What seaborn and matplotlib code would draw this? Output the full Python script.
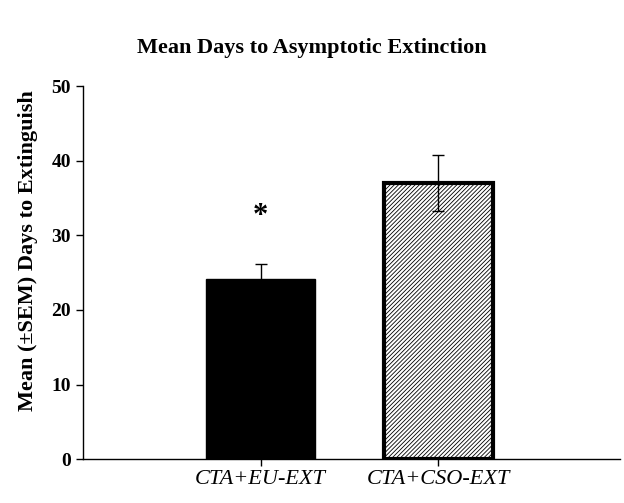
import matplotlib.pyplot as plt
import seaborn as sns
import pandas as pd
import numpy as np

groups = ["CTA+EU-EXT", "CTA+CSO-EXT"]
mean_days = [24.2, 37.0]
sem_days = [2.0, 3.7]

sns.set_style("ticks")
plt.rcParams['font.family'] = ['Liberation Serif', 'DejaVu Serif']
plt.rcParams['hatch.color'] = '#808080'
plt.rcParams['hatch.linewidth'] = 0.6
plt.rcParams['text.color'] = 'black'
plt.rcParams['axes.labelcolor'] = 'black'
plt.rcParams['xtick.color'] = 'black'
plt.rcParams['ytick.color'] = 'black'
plt.rcParams['axes.edgecolor'] = 'black'

df = pd.DataFrame({"group": groups, "days": mean_days, "sem": sem_days})

fig = plt.figure(figsize=(6.24, 5.03), dpi=100)
ax = fig.add_axes([0.133, 0.087, 0.86, 0.742])
sns.barplot(data=df, x="group", y="days", order=groups, errorbar=None,
            width=0.61, ax=ax, color="black")

bars = ax.patches
bars[0].set_facecolor("black")
bars[0].set_edgecolor("black")
bars[0].set_linewidth(1)
bars[1].set_facecolor("white")
bars[1].set_edgecolor("black")
bars[1].set_linewidth(3)
bars[1].set_hatch("////////")

x = np.arange(len(groups))
ax.errorbar(x, df["days"], yerr=df["sem"], fmt="none", ecolor="black",
            elinewidth=1, capsize=4, capthick=1)

ax.text(0, 32.5, "*", ha="center", va="center", fontsize=22, fontweight="bold")

ax.set_xlim(-1, 2.02)
ax.set_ylim(0, 50)
ax.set_yticks([0, 10, 20, 30, 40, 50])
ax.set_ylabel("Mean (±SEM) Days to Extinguish", fontsize=16, fontweight="bold")
ax.yaxis.set_label_coords(-0.083, 0.56)
ax.set_xlabel("")
for lbl in ax.get_yticklabels():
    lbl.set_fontweight("bold")
ax.tick_params(axis="y", labelsize=14, length=5, width=1, direction="out")
ax.tick_params(axis="x", labelsize=16, length=5, width=1, direction="out", pad=3)
for lbl in ax.get_xticklabels():
    lbl.set_fontstyle("italic")
ax.spines["left"].set_linewidth(1)
ax.spines["bottom"].set_linewidth(1)
sns.despine(ax=ax)

fig.suptitle("Mean Days to Asymptotic Extinction", y=0.925, fontsize=16, fontweight="bold")

plt.savefig("out.png", dpi=100)
